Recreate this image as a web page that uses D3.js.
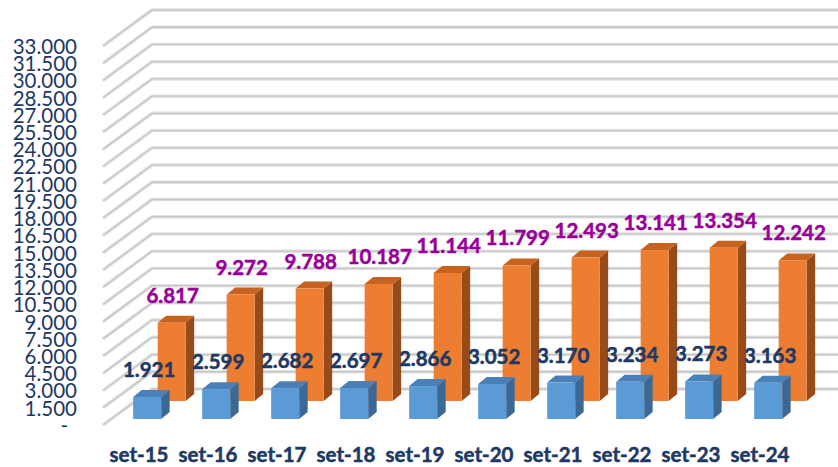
<!DOCTYPE html>
<html>
<head>
<meta charset="utf-8">
<script src="https://cdn.jsdelivr.net/npm/d3@7"></script>
<style>
	html, body { margin: 0; padding: 0; background: #ffffff; }
	svg { display: block; }
</style>
</head>
<body>
<svg id="chart" width="838" height="467"></svg>
<script>
// data
const categories = ["set-15", "set-16", "set-17", "set-18", "set-19", "set-20", "set-21", "set-22", "set-23", "set-24"];
const frontValues = [1921, 2599, 2682, 2697, 2866, 3052, 3170, 3234, 3273, 3163];          // blue row
const backValues = [6817, 9272, 9788, 10187, 11144, 11799, 12493, 13141, 13354, 12242];    // orange row
const yTicks = d3.range(0, 33001, 1500);

/* Note:
	blue faces:   #5b9bd5 / top #4a80ba / side #3b6894
	orange faces: #ed7d31 / top #c8621f / side #974b18
*/
const svg = d3.select("#chart");

const WALL_X = 103;     // left front edge of side wall
const DEPTH_X = 49;     // full depth of the box, screen offset
const DEPTH_Y = 36;
const BAR_W = 28;
const BAR_DX = 8.5, BAR_DY = 7; // depth of a single column

// value scale on the front plane (depth 0)
const y = d3.scaleLinear().domain([0, 33000]).range([425, 46]);
// column centers on the front plane
const x = d3.scalePoint().domain(categories).range([139, 760]);

const loc = d3.formatLocale({ decimal: ",", thousands: ".", grouping: [3], currency: ["", ""] });
const fmt = loc.format(",.0f");

// move a point backwards in depth (0 = front, 1 = back wall)
function proj(px, py, d) {
	return [px + d * DEPTH_X, py - d * DEPTH_Y];
}

//draw gridlines (side wall + back wall)
const grid = svg.append("g");
function gridLine(points) {
	const path = d3.line()(points);
	grid.append("path").attr("d", path).attr("fill", "none")
		.attr("stroke", "#e2e2e2").attr("stroke-width", 3.5);
	grid.append("path").attr("d", path).attr("fill", "none")
		.attr("stroke", "#c6c6c6").attr("stroke-width", 1.3);
}
yTicks.forEach(t => {
	const a = [WALL_X, y(t)];
	const b = proj(WALL_X, y(t), 1);
	gridLine([a, b, [838, b[1]]]);
});

//y axis labels (front plane)
const axis = d3.axisLeft(y)
	.tickValues(yTicks)
	.tickSize(0)
	.tickPadding(0)
	.tickFormat(d => d === 0 ? "-" : fmt(d));
const gAxis = svg.append("g").attr("transform", "translate(77,0)").call(axis);
gAxis.select(".domain").remove();
gAxis.selectAll("text")
	.attr("font-family", "Lato")
	.attr("font-size", 20.5)
	.attr("fill", "#203864")
	.attr("dy", "0.36em")
	.attr("x", d => d === 0 ? -9 : 0);

//draw one 3d column
function drawColumn(g, cat, value, depth, colors) {
	const base = proj(x(cat) - BAR_W / 2, y(0), depth);
	const top = proj(x(cat) - BAR_W / 2, y(value), depth);
	const x0 = base[0], x1 = base[0] + BAR_W;
	const yb = base[1], yt = top[1];
	// side face
	g.append("path")
		.attr("d", d3.line()([[x1, yb], [x1, yt], [x1 + BAR_DX, yt - BAR_DY], [x1 + BAR_DX, yb - BAR_DY]]))
		.attr("fill", colors[2]);
	// top face
	g.append("path")
		.attr("d", d3.line()([[x0, yt], [x1, yt], [x1 + BAR_DX, yt - BAR_DY], [x0 + BAR_DX, yt - BAR_DY]]))
		.attr("fill", colors[1]);
	// front face
	g.append("rect")
		.attr("x", x0).attr("y", yt)
		.attr("width", BAR_W).attr("height", yb - yt)
		.attr("fill", colors[0]);
	return { cx: x0 + BAR_W / 2, top: yt - BAR_DY };
}

const rows = [
	{ values: backValues, depth: 24 / 36, colors: ["#ed7d31", "#c8621f", "#974b18"], label: "#990099", shift: 1 },
	{ values: frontValues, depth: 6 / 36, colors: ["#5b9bd5", "#4a80ba", "#3b6894"], label: "#203864", shift: 2 }
];

const labels = [];
rows.forEach(row => {
	const g = svg.append("g");
	categories.forEach((c, i) => {
		const pos = drawColumn(g, c, row.values[i], row.depth, row.colors);
		labels.push({ x: pos.cx + row.shift, y: pos.top - 13, text: fmt(row.values[i]), color: row.label });
	});
});

//data labels on top of everything (thin stroke makes them a bit heavier)
svg.append("g").selectAll("text")
	.data(labels)
	.join("text")
	.attr("x", d => d.x)
	.attr("y", d => d.y)
	.attr("text-anchor", "middle")
	.attr("font-family", "Lato")
	.attr("font-weight", "bold")
	.attr("font-size", 20.5)
	.attr("fill", d => d.color)
	.attr("stroke", d => d.color)
	.attr("stroke-width", 0.5)
	.text(d => d.text);

//category labels
svg.append("g").selectAll("text")
	.data(categories)
	.join("text")
	.attr("x", d => x(d))
	.attr("y", 461.5)
	.attr("text-anchor", "middle")
	.attr("font-family", "Lato")
	.attr("font-weight", "bold")
	.attr("font-size", 20.5)
	.attr("fill", "#203864")
	.attr("stroke", "#203864")
	.attr("stroke-width", 0.5)
	.text(d => d);
</script>
</body>
</html>
